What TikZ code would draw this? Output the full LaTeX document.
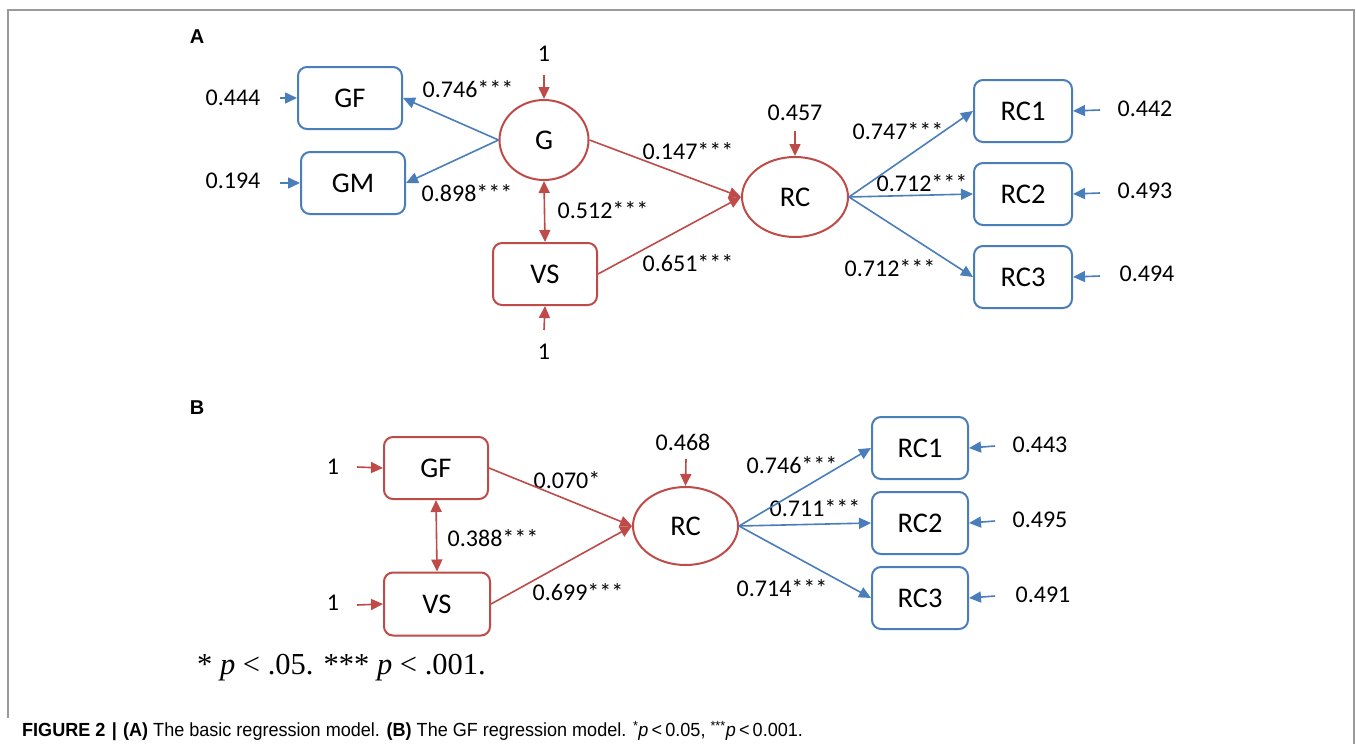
\documentclass[tikz,border=0pt]{standalone}
\usepackage{fontspec}
\setmainfont{Carlito}
\newfontfamily\timesf{Liberation Serif}
\newfontfamily\capf[FakeStretch=0.95]{Liberation Sans}
\newfontfamily\helvf{Liberation Sans}
\usetikzlibrary{arrows.meta,calc,shapes.geometric}
\definecolor{myblue}{HTML}{4A7EBB}
\definecolor{myred}{HTML}{BE4B48}
\definecolor{framegray}{HTML}{9A9A9A}
\begin{document}
\begin{tikzpicture}[x=1pt,y=-1pt,
  lbl/.style={font=\fontsize{24}{28}\selectfont, inner sep=0pt},
  bbox/.style={draw=myblue, line width=2pt, rounded corners=9pt, minimum width=104pt, minimum height=62pt, inner sep=0pt, font=\fontsize{28.5}{32}\selectfont},
  rbox/.style={bbox, draw=myred},
  rell/.style={draw=myred, line width=2pt, ellipse, inner sep=0pt, font=\fontsize{28.5}{32}\selectfont},
  barr/.style={myblue, line width=1.6pt, -{Triangle[length=12pt,width=11pt]}},
  rarr/.style={myred, line width=1.6pt, -{Triangle[length=12pt,width=11pt]}},
  rdarr/.style={myred, line width=1.6pt, {Triangle[length=12pt,width=11pt]}-{Triangle[length=12pt,width=11pt]}},
]
\useasboundingbox (0,0) rectangle (1356,744);
\fill[white] (0,0) rectangle (1356,744);
\draw[framegray, line width=1.5pt] (8,718) -- (8,10) -- (1354,10) -- (1354,744);

% ---------- Panel A ----------
\node[font=\helvf\bfseries\fontsize{20}{22}\selectfont] (labA) at (197,37) {A};
\node[bbox] (GF) at (350,98) {GF};
\node[bbox] (GM) at (353,183) {GM};
\node[rell, minimum width=89pt, minimum height=80pt] (G) at (544,140) {G};
\node[rbox] (VS) at (545,274) {VS};
\node[rell, minimum width=106pt, minimum height=80pt] (RC) at (795,197) {RC};
\node[bbox, minimum width=98pt] (RC1) at (1023,111) {RC1};
\node[bbox, minimum width=98pt] (RC2) at (1023,194) {RC2};
\node[bbox, minimum width=98pt] (RC3) at (1023,277) {RC3};

\node[lbl] (eGF) at (233,98) {0.444};
\node[lbl] (eGM) at (233,181) {0.194};
\node[lbl] (eG) at (544,54) {1};
\node[lbl] (eVS) at (544,352) {1};
\node[lbl] (eRC) at (795,113) {0.457};
\node[lbl] (e1) at (1145,109) {0.442};
\node[lbl] (e2) at (1145,191) {0.493};
\node[lbl] (e3) at (1147,274) {0.494};

\node[lbl] (cGF) at (468,89) {0.746***};
\node[lbl] (cGM) at (467,193) {0.898***};
\node[lbl] (cGV) at (603,210) {0.512***};
\node[lbl] (cGR) at (688,151) {0.147***};
\node[lbl] (cVR) at (688,263) {0.651***};
\node[lbl] (c1) at (898,131) {0.747***};
\node[lbl] (c2) at (922,183) {0.712***};
\node[lbl] (c3) at (890,268) {0.712***};

\coordinate (sGF) at (280,98);
\coordinate (sGM) at (280,183);
\coordinate (sG) at (544,75);
\coordinate (sVS) at (544,330);
\coordinate (sRC) at (795,131);
\coordinate (s1) at (1100,110);
\coordinate (s2) at (1100,193);
\coordinate (s3) at (1100,276);
\draw[barr] (sGF) -- (GF.west);
\draw[barr] (sGM) -- (GM.west);
\draw[rarr] (sG) -- (G.north);
\draw[rarr] (sVS) -- (VS.south);
\draw[rarr] (sRC) -- (RC.north);
\draw[barr] (s1) -- (RC1.east);
\draw[barr] (s2) -- (RC2.east);
\draw[barr] (s3) -- (RC3.east);
\draw[barr] (G.west) -- (GF.east);
\draw[barr] (G.west) -- (GM.east);
\draw[rdarr] (G.south) -- (VS.north);
\draw[rarr] (G.east) -- (RC.west);
\draw[rarr] (VS.east) -- (RC.west);
\draw[barr] (RC.east) -- (RC1.west);
\draw[barr] (RC.east) -- (RC2.west);
\draw[barr] (RC.east) -- (RC3.west);

% ---------- Panel B ----------
\node[font=\helvf\bfseries\fontsize{20}{22}\selectfont] (labB) at (197,408) {B};
\node[rbox] (bGF) at (436,468) {GF};
\node[rbox, minimum width=106pt, minimum height=63pt] (bVS) at (437,604) {VS};
\node[rell, minimum width=105pt, minimum height=78pt] (bRC) at (685.5,526) {RC};
\node[bbox, minimum width=96pt] (bRC1) at (920,448) {RC1};
\node[bbox, minimum width=96pt] (bRC2) at (920,523) {RC2};
\node[bbox, minimum width=96pt] (bRC3) at (920,598) {RC3};

\node[lbl] (beGF) at (333,467) {1};
\node[lbl] (beVS) at (333,603) {1};
\node[lbl] (beRC) at (683,442) {0.468};
\node[lbl] (be1) at (1040,445) {0.443};
\node[lbl] (be2) at (1040,520) {0.495};
\node[lbl] (be3) at (1043,595) {0.491};

\node[lbl] (bcGR) at (567,480) {0.070*};
\node[lbl] (bcVR) at (578,592) {0.699***};
\node[lbl] (bcGV) at (493,538) {0.388***};
\node[lbl] (bc1) at (792,465) {0.746***};
\node[lbl] (bc2) at (815,508) {0.711***};
\node[lbl] (bc3) at (782,588) {0.714***};

\coordinate (bsGF) at (357,467);
\coordinate (bsVS) at (357,605);
\coordinate (bsRC) at (686,459);
\coordinate (bs1) at (995,446);
\coordinate (bs2) at (995,521);
\coordinate (bs3) at (995,596);
\draw[rarr] (bsGF) -- (bGF.west);
\draw[rarr] (bsVS) -- (bVS.west);
\draw[rarr] (bsRC) -- (bRC.north);
\draw[barr] (bs1) -- (bRC1.east);
\draw[barr] (bs2) -- (bRC2.east);
\draw[barr] (bs3) -- (bRC3.east);
\draw[rdarr] (bGF.south) -- (bVS.north);
\draw[rarr] (bGF.east) -- (bRC.west);
\draw[rarr] (bVS.east) -- (bRC.west);
\draw[barr] (bRC.east) -- (bRC1.west);
\draw[barr] (bRC.east) -- (bRC2.west);
\draw[barr] (bRC.east) -- (bRC3.west);

% ---------- notes ----------
\node[anchor=west, inner sep=0pt, font=\timesf\fontsize{30.5}{34}\selectfont] (fn) at (197,668) {* \textit{p} < .05. *** \textit{p} < .001.};
\node[anchor=west, inner sep=0pt, font=\capf\fontsize{19}{22}\selectfont] (cap) at (22,731) {\textbf{FIGURE 2\,\,|\,\,(A)} The basic regression model. \textbf{(B)} The GF regression model. \textsuperscript{*}\textit{p}\,<\,0.05, \textsuperscript{***}\textit{p}\,<\,0.001.};
\end{tikzpicture}
\end{document}
